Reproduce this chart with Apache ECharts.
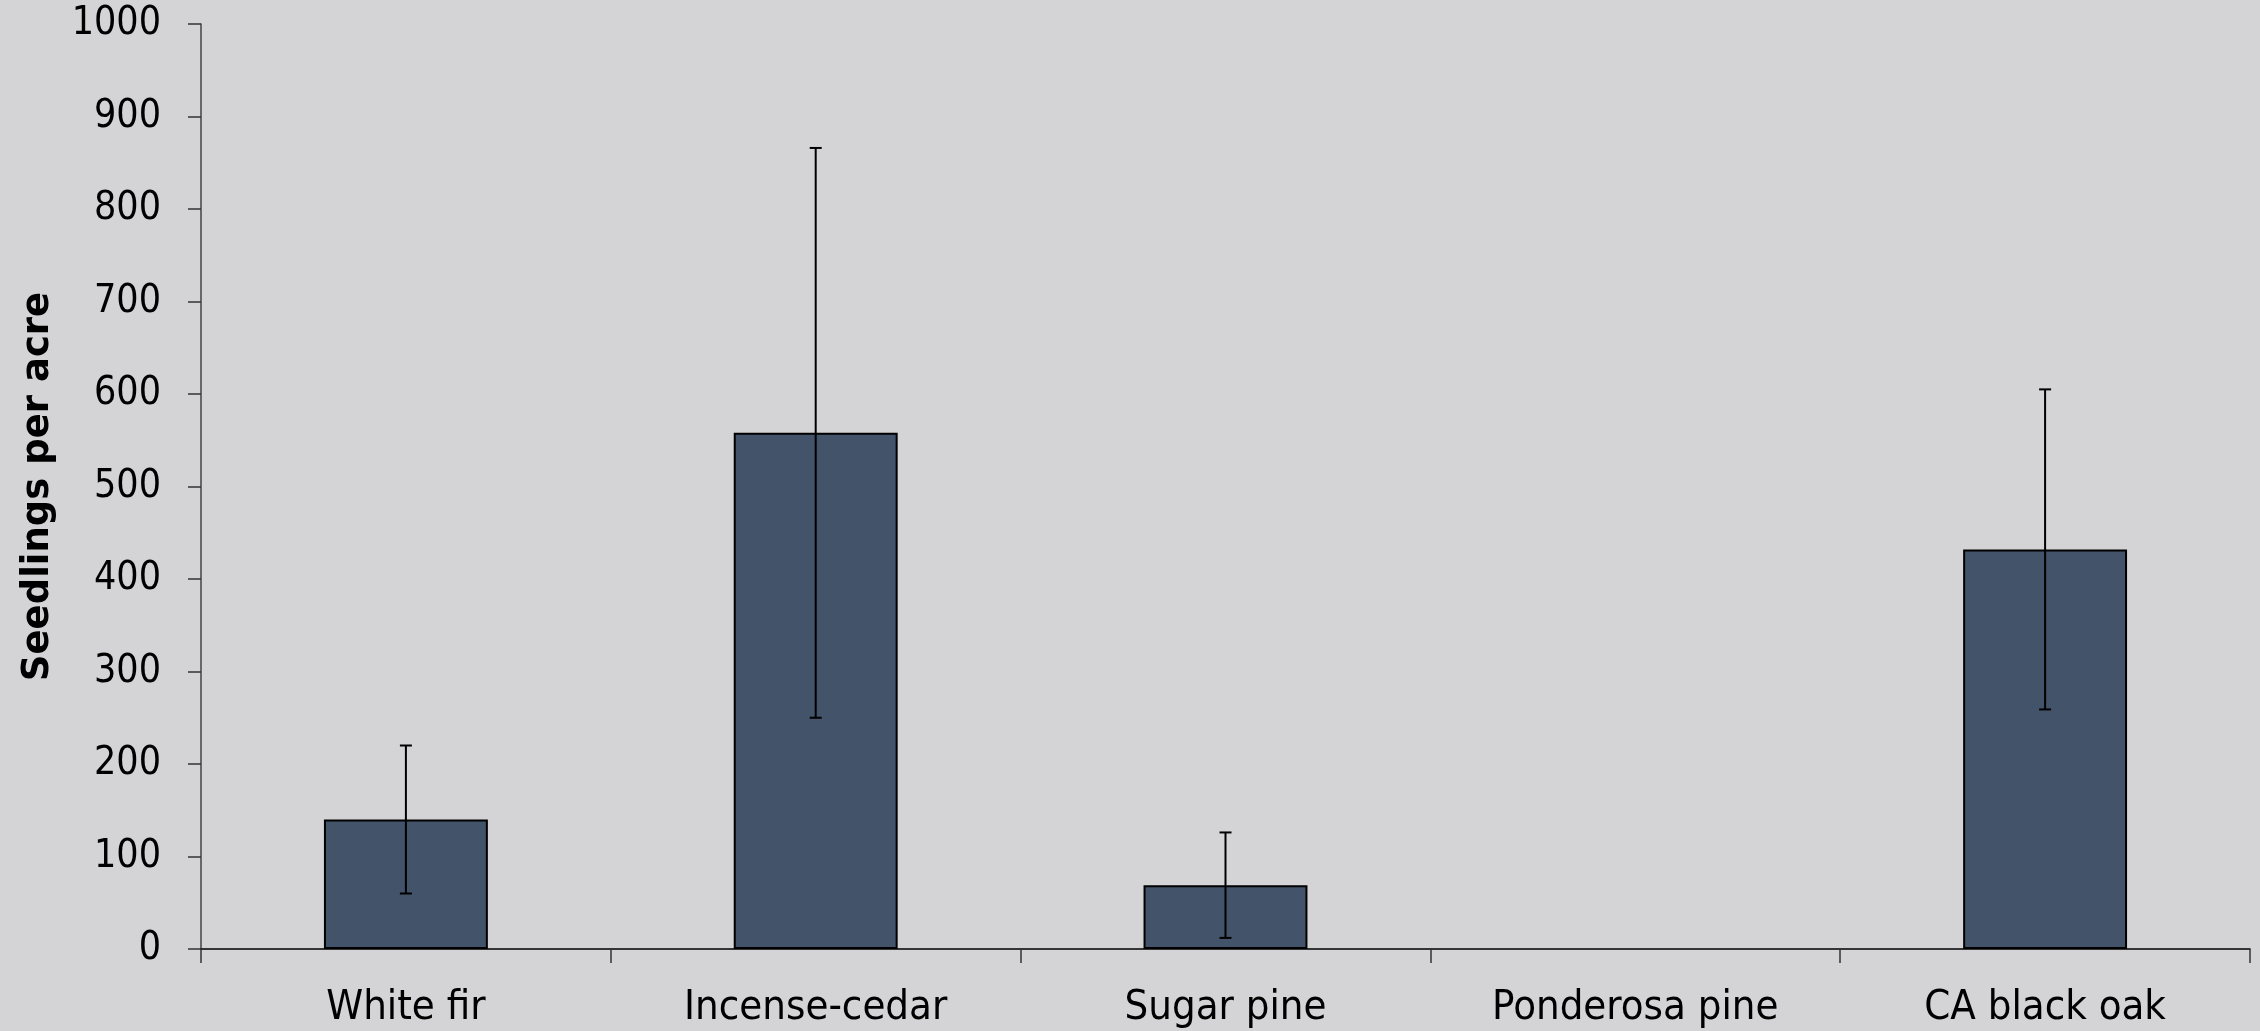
<!DOCTYPE html>
<html>
<head>
<meta charset="utf-8">
<script src="https://cdn.jsdelivr.net/npm/echarts@6/dist/echarts.min.js"></script>
<style>
  html, body { margin: 0; padding: 0; background: #d4d4d6; }
  #chart { width: 2260px; height: 1031px; }
</style>
</head>
<body>
<div id="chart"></div>
<script>
// data
const categories = ['White fir', 'Incense-cedar', 'Sugar pine', 'Ponderosa pine', 'CA black oak'];
const means = [140, 558, 69, 0, 432];
const errors = [80, 308, 57, 0, 173];
const yTicks = [0, 1000, 100]; // min, max, step

document.addEventListener('DOMContentLoaded', function() {
    const chart = echarts.init(document.getElementById('chart'));

    // zero bars are not drawn in the original
    const barData = means.map(function(m) {
        return m === 0 ? { value: 0, itemStyle: { borderWidth: 0, opacity: 0 } } : m;
    });
    // [index, low, high] for the error bars
    const errData = means.map(function(m, i) {
        return [i, m - errors[i], m + errors[i]];
    });

    const option = {
        animation: false,
        backgroundColor: '#d4d4d6',
        grid: { top: 24, right: 10, bottom: 82, left: 201, outerBoundsMode: 'none', containLabel: false },
        xAxis: {
            type: 'category',
            data: categories,
            axisLine: { lineStyle: { color: '#000', width: 1.5 } },
            axisTick: { show: true, length: 14, lineStyle: { color: '#333', width: 1.5 } },
            axisLabel: {
                color: '#000',
                fontFamily: 'DejaVu Sans Condensed, DejaVu Sans',
                fontSize: 41.5,
                margin: 38
            }
        },
        yAxis: {
            type: 'value',
            min: yTicks[0],
            max: yTicks[1],
            interval: yTicks[2],
            name: 'Seedlings per acre',
            nameLocation: 'middle',
            nameGap: 144,
            nameRotate: 90,
            nameTextStyle: {
                color: '#000',
                fontFamily: 'DejaVu Sans',
                fontWeight: 'bold',
                fontSize: 37
            },
            axisLine: { show: true, lineStyle: { color: '#444', width: 1.5 } },
            axisTick: { show: true, length: 13, lineStyle: { color: '#333', width: 1.5 } },
            splitLine: { show: false },
            axisLabel: {
                color: '#000',
                fontFamily: 'DejaVu Sans Condensed, DejaVu Sans',
                fontSize: 39,
                margin: 40,
                formatter: function(v) { return String(v); }
            }
        },
        series: [{
            type: 'bar',
            data: barData,
            barWidth: '40%',
            itemStyle: { color: '#435369', borderColor: '#000', borderWidth: 2 }
        }, {
            type: 'custom',
            data: errData,
            z: 10,
            renderItem: function(params, api) {
                const lo = api.value(1), hi = api.value(2);
                if (hi === lo) return null;
                const top = api.coord([api.value(0), hi]);
                const bot = api.coord([api.value(0), lo]);
                const half = 6;
                const style = { stroke: '#000', lineWidth: 2 };
                return {
                    type: 'group',
                    children: [
                        { type: 'line', shape: { x1: top[0], y1: top[1], x2: bot[0], y2: bot[1] }, style: style },
                        { type: 'line', shape: { x1: top[0] - half, y1: top[1], x2: top[0] + half, y2: top[1] }, style: style },
                        { type: 'line', shape: { x1: bot[0] - half, y1: bot[1], x2: bot[0] + half, y2: bot[1] }, style: style }
                    ]
                };
            }
        }]
    };
    chart.setOption(option);
});
</script>
</body>
</html>
